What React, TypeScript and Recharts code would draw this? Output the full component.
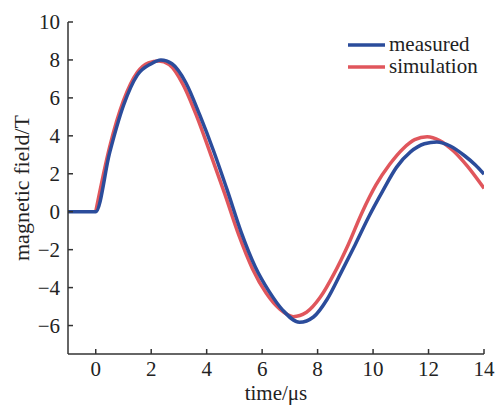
import { LineChart, Line, XAxis, YAxis, Label } from 'recharts'

// measured trace (time in µs, field in T)
const MEASURED_T = [-1, 0, 0.5, 1, 1.5, 2, 2.35, 2.75, 3.25, 3.75, 4.25, 4.75, 5.25, 5.75, 6.25, 6.75, 7.35, 7.85, 8.35, 8.85, 9.35, 9.85, 10.35, 10.85, 11.35, 11.85, 12.3, 12.8, 13.3, 13.7, 14]
const MEASURED_V = [0, 0, 3.1, 5.6, 7.2, 7.8, 8.0, 7.8, 6.8, 5.1, 3.2, 1.1, -1.1, -2.9, -4.2, -5.2, -5.83, -5.55, -4.6, -3.2, -1.75, -0.25, 1.1, 2.35, 3.15, 3.58, 3.68, 3.45, 2.95, 2.45, 1.98]
// simulated trace
const SIM_T = [0, 0.5, 1, 1.5, 1.9, 2.27, 2.65, 3.15, 3.65, 4.15, 4.65, 5.15, 5.65, 6.15, 6.65, 7.12, 7.6, 8.1, 8.6, 9.1, 9.6, 10.1, 10.6, 11.1, 11.5, 11.95, 12.4, 12.9, 13.4, 14]
const SIM_V = [0, 3.4, 5.85, 7.35, 7.85, 7.95, 7.75, 6.7, 5.0, 3.0, 0.95, -1.2, -3.0, -4.3, -5.15, -5.53, -5.3, -4.5, -3.25, -1.75, -0.05, 1.4, 2.5, 3.35, 3.8, 3.95, 3.75, 3.2, 2.4, 1.23]
const X_TICKS = [0, 2, 4, 6, 8, 10, 12, 14]
const Y_TICKS = [-6, -4, -2, 0, 2, 4, 6, 8, 10]

const measured = MEASURED_T.map((t, i) => ({ t, v: MEASURED_V[i] }))
const simulation = SIM_T.map((t, i) => ({ t, v: SIM_V[i] }))

const BLUE = '#2b4c9b'
const RED = '#e0565c'
const AXIS = '#333'
const TEXT = '#222'
const FONT = '"Liberation Serif", "Times New Roman", serif'

const fmt = (v: number) => String(v).replace('-', '\u2212')

const LegendBox = () => (
  <div style={{ position: 'absolute', left: 346, top: 34, fontFamily: FONT, fontSize: 21, color: TEXT, lineHeight: '22px' }}>
    {[['measured', BLUE], ['simulation', RED]].map(([name, c]) => (
      <div key={name} style={{ display: 'flex', alignItems: 'center', height: 22 }}>
        <svg width={40} height={22}><line x1={2} x2={39} y1={11} y2={11} stroke={c} strokeWidth={3.5} /></svg>
        <span style={{ marginLeft: 3, marginTop: -3 }}>{name}</span>
      </div>
    ))}
  </div>
)

export default function App() {
  return (
    <div style={{ position: 'absolute', left: 0, top: 0, width: 495, height: 405, background: '#fff' }}>
      <LineChart width={495} height={405} margin={{ top: 22, right: 11, bottom: 0, left: 0 }}>
        <XAxis dataKey="t" type="number" domain={[-1, 14]} ticks={X_TICKS} allowDataOverflow allowDuplicatedCategory={false}
          tickFormatter={fmt} tickSize={-5} tickMargin={12} height={51}
          stroke={AXIS} strokeWidth={1.5} tick={{ fontSize: 21, fill: TEXT, fontFamily: FONT }}>
          <Label value="time/μs" position="insideBottom" offset={5} style={{ fontSize: 21, fill: TEXT, fontFamily: FONT }} />
        </XAxis>
        <XAxis xAxisId="top" orientation="top" dataKey="t" type="number" domain={[-1, 14]} tick={false} tickLine={false} height={0} stroke={AXIS} strokeWidth={1.5} />
        <YAxis type="number" domain={[-7.5, 10]} ticks={Y_TICKS} allowDataOverflow width={68}
          tickFormatter={fmt} tickSize={-5} tickMargin={13}
          stroke={AXIS} strokeWidth={1.5} tick={{ fontSize: 21, fill: TEXT, fontFamily: FONT }}>
          <Label value="magnetic field/T" angle={-90} position="insideLeft" offset={21} style={{ fontSize: 22, fill: TEXT, fontFamily: FONT, textAnchor: 'middle' }} />
        </YAxis>
        <YAxis yAxisId="right" orientation="right" type="number" domain={[-7.5, 10]} tick={false} tickLine={false} width={0} stroke={AXIS} strokeWidth={1.5} />
        <Line data={simulation} dataKey="v" name="simulation" type="monotone" stroke={RED} strokeWidth={3.5} dot={false} isAnimationActive={false} />
        <Line data={measured} dataKey="v" name="measured" type="monotone" stroke={BLUE} strokeWidth={3.5} dot={false} isAnimationActive={false} />
      </LineChart>
      <LegendBox />
    </div>
  )
}
